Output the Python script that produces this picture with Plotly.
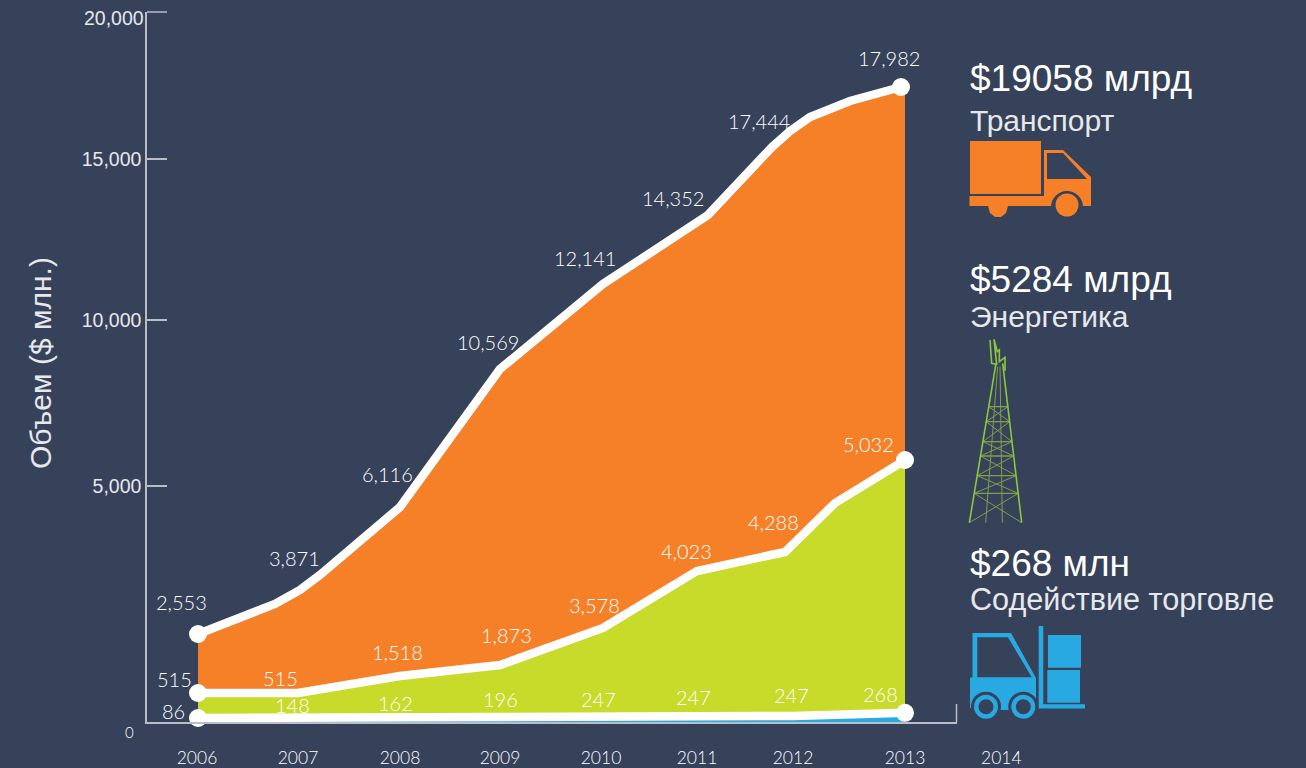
import plotly.graph_objects as go

# ---------- data (positions on the chart's own, hand-spaced scale) ----------
year_labels = ["2006", "2007", "2008", "2009", "2010", "2011", "2012", "2013"]
year_ticks = [2005.99, 2007.0, 2008.02, 2009.02, 2010.03, 2010.99, 2011.95, 2013.07]

y_ticks = [6648, 11324, 15859, 20000]
y_tick_labels = ["5,000", "10,000", "15,000", " "]

transport_x = [2006.0, 2006.77, 2007.02, 2007.22, 2008.02, 2009.02, 2010.05, 2011.1, 2011.74, 2011.92, 2012.12, 2012.32, 2012.52, 2013.03, 2013.07]
transport_y = [2479, 3324, 3718, 4141, 6056, 9944, 12338, 14282, 16197, 16648, 17042, 17296, 17493, 17887, 17800]

energy_x = [2006.0, 2007.0, 2008.02, 2009.02, 2010.05, 2010.99, 2011.87, 2012.37, 2013.07]
energy_y = [817, 817, 1296, 1606, 2648, 4254, 4789, 6169, 7380]

trade_x = [2006.0, 2007.0, 2008.02, 2009.02, 2010.03, 2010.99, 2011.95, 2013.07]
trade_y = [113, 113, 113, 150, 170, 170, 170, 260]

transport_labels = ["2,553", "3,871", "6,116", "10,569", "12,141", "14,352", "17,444", "17,982"]
energy_labels = ["515", "515", "1,518", "1,873", "3,578", "4,023", "4,288", "5,032"]
trade_labels = ["86", "148", "162", "196", "247", "247", "247", "268"]

# ---------- style / layout ----------
BG = "#36415a"
ORANGE = "#f68028"
GREEN = "#c8da2a"
BLUE = "#29a9e1"
TOWER = "#8dc63f"
AXIS = "#b9bdc6"
TEXT = "#ffffff"
SOFT = "#e6e8ec"
W, H = 1306, 768
L, R, T, B = 147, 957, 12, 722
SANS = "Liberation Sans"
LIGHT = "Lato Light, Lato"

transport_pos = [(181, 602), (294, 558), (387, 474), (488, 342), (585, 258), (673, 198), (759, 121), (889, 58)]
energy_pos = [(174, 679), (280, 678), (397, 652), (506, 635), (594, 605), (686, 551), (773, 522), (868, 444)]
trade_pos = [(173, 711), (292, 705), (395, 703), (500, 699), (598, 699), (693, 697), (791, 695), (880, 694)]


def fx(x):
    return (x - L) / (R - L)


def fy(y):
    return (B - y) / (B - T)


def poly(pts, close=True):
    s = "M" + " L".join(f"{fx(x):.5f},{fy(y):.5f}" for x, y in pts)
    return s + (" Z" if close else "")


shapes = []


def add_poly(pts, color):
    shapes.append(dict(type="path", xref="paper", yref="paper", path=poly(pts), fillcolor=color, line_width=0, layer="above"))


def add_circle(cx, cy, r, color):
    shapes.append(dict(type="circle", xref="paper", yref="paper", x0=fx(cx - r), x1=fx(cx + r), y0=fy(cy + r), y1=fy(cy - r),
                       fillcolor=color, line_width=0, layer="above"))


def add_line(pts, color, width):
    shapes.append(dict(type="path", xref="paper", yref="paper", path=poly(pts, False), line=dict(color=color, width=width), layer="above"))


# axis end ticks
add_line([(R - 0.5, 722), (R - 0.5, 704)], AXIS, 1.5)
add_line([(147, 12), (167, 12)], AXIS, 1.5)

# truck
add_poly([(970, 141), (1041, 141), (1041, 194), (970, 194)], ORANGE)
add_poly([(969.5, 196), (1044, 196), (1044, 150), (1063, 150), (1091, 177), (1091, 206), (969.5, 206)], ORANGE)
add_poly([(1047, 153), (1063, 153), (1087, 179), (1047, 179)], BG)
add_circle(1067, 207, 16, BG)
add_circle(1067, 205, 11.5, ORANGE)
add_poly([(988, 206), (1008, 206), (1006, 213), (1001, 217), (995, 217), (990, 213)], ORANGE)

# forklift
add_poly([(970, 677.5), (972.5, 677.5), (972.5, 633), (1011, 633), (1036, 678), (1036, 708), (970, 708)], BLUE)
add_poly([(977.3, 637.3), (1008, 637.3), (1031.7, 677.3), (977.3, 677.3)], BG)
add_poly([(1000, 700), (1010, 700), (1010, 710), (1000, 710)], BLUE)
for cx in (986, 1023.3):
    add_circle(cx, 706.7, 15, BG)
    add_circle(cx, 706.7, 12, BLUE)
    add_circle(cx, 706.7, 7.5, BG)
add_poly([(1038.7, 626), (1043.3, 626), (1043.3, 704.3), (1085, 704.3), (1085, 708.5), (1038.7, 708.5)], BLUE)
add_poly([(1048, 635), (1081, 635), (1081, 667.7), (1048, 667.7)], BLUE)
add_poly([(1047.3, 670), (1080, 670), (1080, 702.7), (1047.3, 702.7)], BLUE)


# tower
def tz(zx, zy):
    return (950 + zx / 3, 330 + zy / 3)


def lx(zy):
    return 58 + (578 - zy) * 80 / 478


def rx(zy):
    return 215 - (578 - zy) * 57 / 478


THIN = "#7f9f4c"
levels = [230, 275, 335, 378, 437, 490, 578]
add_line([tz(107, 578), tz(143, 110)], THIN, 1)
add_line([tz(157, 578), tz(150, 110)], THIN, 1)
for a, b in zip(levels[:-1], levels[1:]):
    add_line([tz(lx(a), a), tz(rx(b), b)], THIN, 1)
    add_line([tz(rx(a), a), tz(lx(b), b)], THIN, 1)
for z in levels[:-1]:
    add_line([tz(lx(z), z), tz(rx(z), z)], THIN, 1.3)
add_line([tz(58, 578), tz(138, 100)], TOWER, 1.6)
add_line([tz(215, 578), tz(158, 100)], TOWER, 1.6)
add_line([tz(120, 30), tz(125, 100), tz(140, 103), tz(132, 28), tz(142, 65), tz(148, 60), tz(148, 95), tz(165, 82), tz(165, 122)], TOWER, 1.6)

fig = go.Figure()
# areas
fig.add_trace(go.Scatter(x=trade_x, y=trade_y, mode="none", fill="tozeroy", fillcolor=BLUE, hoverinfo="skip"))
fig.add_trace(go.Scatter(x=energy_x, y=energy_y, mode="none", fill="tonexty", fillcolor=GREEN, hoverinfo="skip"))
fig.add_trace(go.Scatter(x=transport_x, y=transport_y, mode="none", fill="tonexty", fillcolor=ORANGE, hoverinfo="skip"))
# lines
for xs, ys in ((trade_x, trade_y), (energy_x, energy_y), (transport_x[:-1], transport_y[:-1])):
    fig.add_trace(go.Scatter(x=xs, y=ys, mode="lines", line=dict(color="white", width=8.5), hoverinfo="skip", cliponaxis=False))
    fig.add_trace(go.Scatter(x=[xs[0], xs[-1]], y=[ys[0], ys[-1]], mode="markers", marker=dict(color="white", size=18),
                             hoverinfo="skip", cliponaxis=False))

annotations = []


def note(px, py, text, size, family=LIGHT, anchor="center", color=TEXT, **kw):
    annotations.append(dict(xref="paper", yref="paper", x=fx(px), y=fy(py), text=text, showarrow=False, xanchor=anchor,
                            yanchor="middle", font=dict(size=size, family=family, color=color), borderpad=0, **kw))


for labels, positions in ((transport_labels, transport_pos), (energy_labels, energy_pos), (trade_labels, trade_pos)):
    for t, (px, py) in zip(labels, positions):
        note(px, py, t, 20)

note(145, 18, "20,000", 19.5, SANS, "right", SOFT)
note(129, 732, "0", 15, LIGHT)
note(1001, 757, "2014", 17.5, LIGHT)
note(40, 363, "Объем ($ млн.)", 30, SANS, textangle=-90, color=SOFT)

note(969, 79, "$19058 млрд", 37, SANS, "left")
note(969, 120, "Транспорт", 30, SANS, "left", SOFT)
note(969, 279, "$5284 млрд", 37, SANS, "left")
note(969, 316, "Энергетика", 30, SANS, "left", SOFT)
note(969, 563, "$268 млн", 37, SANS, "left")
note(969, 599, "Содействие торговле", 30.6, SANS, "left", SOFT)

fig.update_layout(
    width=W, height=H, paper_bgcolor=BG, plot_bgcolor=BG, showlegend=False,
    margin=dict(l=L, r=W - R, t=T, b=H - B, pad=0, autoexpand=False),
    shapes=shapes, annotations=annotations,
    xaxis=dict(range=[2005.49, 2013.59], tickmode="array", tickvals=year_ticks, ticktext=year_labels,
               showgrid=False, zeroline=False, showline=True, linecolor=AXIS, linewidth=1.5, ticks="",
               ticklabelstandoff=19, tickfont=dict(size=17.5, family=LIGHT, color=TEXT)),
    yaxis=dict(range=[0, 20000], tickmode="array", tickvals=y_ticks, ticktext=y_tick_labels,
               showgrid=False, zeroline=False, showline=True, linecolor=AXIS, linewidth=1.5,
               ticks="inside", ticklen=20, tickcolor=AXIS, tickwidth=1.5,
               tickfont=dict(size=19.5, family=SANS, color=SOFT)),
)

fig.write_html("out.html", config=dict(displayModeBar=False),
               post_script="document.body.style.margin='0';document.body.style.background='%s';" % BG)
